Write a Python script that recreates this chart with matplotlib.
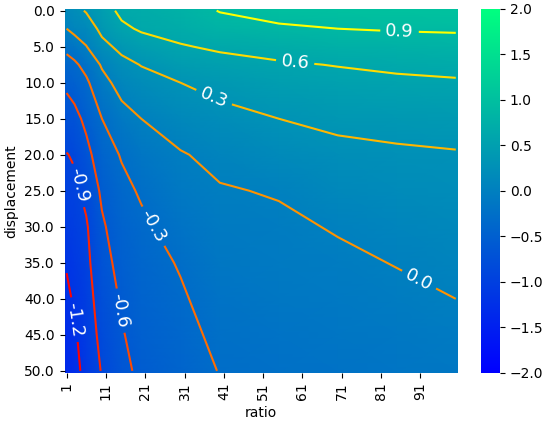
import numpy as np
import matplotlib
matplotlib.use("Agg")
import matplotlib.pyplot as plt

# grid (ratio columns, displacement rows)
ratio = np.array([1, 3, 6, 10, 15, 20, 30, 40, 55, 70, 85, 100])
displacement = np.array([0, 2.5, 5, 7.5, 10, 15, 20, 25, 30, 35, 40, 45, 50])

# one row per displacement value
values = np.array([
    [0.15, 0.22, 0.32, 0.48, 0.66, 0.70, 0.79, 0.91, 1.00, 1.02, 1.04, 1.05],
    [0.00, 0.08, 0.15, 0.37, 0.55, 0.63, 0.70, 0.80, 0.86, 0.90, 0.92, 0.93],
    [-0.23, -0.15, -0.01, 0.22, 0.37, 0.48, 0.58, 0.64, 0.70, 0.75, 0.78, 0.80],
    [-0.40, -0.35, -0.21, 0.03, 0.22, 0.31, 0.44, 0.51, 0.57, 0.61, 0.65, 0.68],
    [-0.54, -0.47, -0.35, -0.09, 0.10, 0.20, 0.30, 0.39, 0.48, 0.52, 0.55, 0.57],
    [-0.75, -0.69, -0.53, -0.30, -0.10, 0.00, 0.14, 0.21, 0.30, 0.36, 0.39, 0.42],
    [-0.91, -0.87, -0.69, -0.43, -0.28, -0.15, -0.02, 0.07, 0.16, 0.23, 0.26, 0.28],
    [-1.00, -0.96, -0.83, -0.55, -0.37, -0.27, -0.10, -0.02, 0.02, 0.13, 0.18, 0.21],
    [-1.09, -1.03, -0.93, -0.64, -0.44, -0.35, -0.19, -0.08, -0.05, 0.02, 0.09, 0.14],
    [-1.18, -1.10, -0.97, -0.70, -0.51, -0.40, -0.28, -0.14, -0.09, -0.05, 0.01, 0.07],
    [-1.25, -1.17, -1.02, -0.76, -0.57, -0.45, -0.33, -0.19, -0.14, -0.10, -0.06, 0.00],
    [-1.32, -1.24, -1.06, -0.82, -0.62, -0.50, -0.38, -0.24, -0.19, -0.155, -0.11, -0.07],
    [-1.37, -1.29, -1.11, -0.88, -0.66, -0.55, -0.425, -0.29, -0.24, -0.21, -0.17, -0.14],
])

levels = [-1.2, -0.9, -0.6, -0.3, 0.0, 0.3, 0.6, 0.9]
# where the inline labels sit (ratio, displacement)
label_spots = [(2.9, 42.9), (4.4, 24.2), (15.3, 41.6), (23.5, 29.8),
               (90.9, 37.1), (38.8, 11.7), (59.2, 6.8), (85.7, 2.7)]

xticks = list(range(1, 100, 10))
yticks = [0, 5, 10, 15, 20, 25, 30, 35, 40, 45, 50]

fig = plt.figure(figsize=(5.43, 4.23), dpi=100)
ax = fig.add_axes([0.119, 0.119, 0.724, 0.860])
cax = fig.add_axes([0.886, 0.119, 0.035, 0.860])

# stretch the outer mesh nodes to the cell edges
mx = ratio.astype(float)
mx[0] -= 0.5
mx[-1] += 0.5
my = displacement.astype(float)
my[0] -= 0.25
my[-1] += 0.25

mesh = ax.pcolormesh(mx, my, values, cmap="winter", vmin=-2, vmax=2,
                     shading="gouraud", rasterized=True)
cs = ax.contour(ratio, displacement, values, levels=levels, cmap="autumn",
                linewidths=1.5)
ax.set_xlim(0.5, 100.5)
ax.set_ylim(50.25, -0.25)

ax.clabel(cs, inline=True, fontsize=13, colors="white", fmt="%.1f",
          manual=label_spots)

ax.set_xticks(xticks)
ax.set_xticklabels([str(t) for t in xticks], rotation=90)
ax.set_yticks(yticks)
ax.set_yticklabels(["%.1f" % t for t in yticks])
ax.set_xlabel("ratio")
ax.set_ylabel("displacement")
for s in ax.spines.values():
    s.set_visible(False)

cb = fig.colorbar(mesh, cax=cax)
cb.set_ticks([-2.0, -1.5, -1.0, -0.5, 0.0, 0.5, 1.0, 1.5, 2.0])
cb.outline.set_visible(False)

fig.savefig("out.png", dpi=100)
